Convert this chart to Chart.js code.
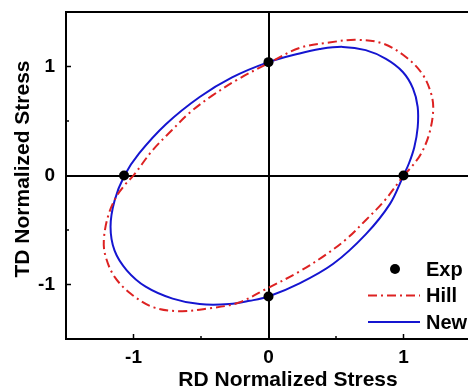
<!DOCTYPE html>
<html>
<head>
<meta charset="utf-8">
<script src="https://cdn.jsdelivr.net/npm/chart.js@4"></script>
<style>
  html, body { margin: 0; padding: 0; overflow: hidden; background: #fff; }
  #yield { display: block; }
</style>
</head>
<body>
<canvas id="yield" width="476" height="390"></canvas>
<script>
// Measured yield points
const expPoints = [[1.00, 0.00], [0.00, 1.04], [-1.07, 0.00], [0.00, -1.11]];

// Hill criterion locus
const hillCurve = [
  [1.00, 0.00], [1.06, 0.08], [1.13, 0.20], [1.19, 0.38], [1.22, 0.60], [1.205, 0.75],
  [1.14, 0.93], [1.02, 1.085], [0.85, 1.21], [0.65, 1.245], [0.45, 1.22], [0.23, 1.17],
  [0.00, 1.03], [-0.23, 0.88], [-0.42, 0.73], [-0.58, 0.58], [-0.72, 0.41], [-0.86, 0.23],
  [-1.00, 0.00], [-1.06, -0.08], [-1.13, -0.20], [-1.19, -0.38], [-1.22, -0.60], [-1.205, -0.75],
  [-1.14, -0.93], [-1.02, -1.085], [-0.85, -1.21], [-0.65, -1.245], [-0.45, -1.22], [-0.23, -1.17],
  [0.00, -1.03], [0.23, -0.88], [0.42, -0.73], [0.58, -0.58], [0.72, -0.41], [0.86, -0.23],
  [1.00, 0.00]
];

// New criterion locus
const newCurve = [
  [1.00, 0.00], [1.04, 0.11], [1.08, 0.26], [1.105, 0.44], [1.105, 0.63], [1.07, 0.80],
  [0.995, 0.95], [0.87, 1.07], [0.72, 1.15], [0.55, 1.18], [0.38, 1.16], [0.23, 1.12],
  [0.00, 1.04], [-0.27, 0.90], [-0.51, 0.72], [-0.76, 0.47], [-0.96, 0.20], [-1.067, 0.00],
  [-1.14, -0.23], [-1.17, -0.47], [-1.14, -0.69], [-1.05, -0.87], [-0.91, -1.02], [-0.71, -1.13],
  [-0.51, -1.18], [-0.29, -1.18], [-0.14, -1.15], [0.00, -1.11], [0.23, -0.99], [0.48, -0.81],
  [0.72, -0.54], [0.90, -0.26], [1.00, 0.00]
];

const seriesNames = ['Exp', 'Hill', 'New'];
const tickLabels = [-1, 0, 1];

const FONT = 'Arial, "Liberation Sans", sans-serif';
const toXY = pts => pts.map(([x, y]) => ({ x, y }));

// inside ticks, top frame, axis titles and the legend inside the plot
const decorations = {
  id: 'decorations',
  afterDraw(chart) {
    const ctx = chart.ctx;
    const area = chart.chartArea;
    const xs = chart.scales.x, ys = chart.scales.y;
    ctx.save();
    ctx.strokeStyle = '#000';
    ctx.lineWidth = 2;
    ctx.strokeRect(area.left, area.top, area.right - area.left, area.bottom - area.top);

    ctx.lineWidth = 1.5;
    [-1, -0.5, 0.5, 1].forEach(v => {
      const len = Number.isInteger(v) ? 5 : 3;
      const px = xs.getPixelForValue(v);
      ctx.beginPath();
      ctx.moveTo(px, area.bottom);
      ctx.lineTo(px, area.bottom - len);
      ctx.stroke();
      const py = ys.getPixelForValue(v);
      ctx.beginPath();
      ctx.moveTo(area.left, py);
      ctx.lineTo(area.left + len, py);
      ctx.stroke();
    });

    // axis titles
    ctx.fillStyle = '#000';
    ctx.font = 'bold 21px ' + FONT;
    ctx.textAlign = 'center';
    ctx.textBaseline = 'middle';
    ctx.fillText('RD Normalized Stress', 288, 380);
    ctx.save();
    ctx.translate(23, 169);
    ctx.rotate(-Math.PI / 2);
    ctx.fillText('TD Normalized Stress', 0, 0);
    ctx.restore();

    // legend
    ctx.font = 'bold 20px ' + FONT;
    ctx.textAlign = 'left';
    chart.data.datasets.forEach((ds, i) => {
      const y = 269 + i * 26.5;
      if (ds.showLine === false) {
        ctx.fillStyle = ds.backgroundColor;
        ctx.beginPath();
        ctx.arc(395, y, 5, 0, Math.PI * 2);
        ctx.fill();
      } else {
        ctx.strokeStyle = ds.borderColor;
        ctx.lineWidth = ds.borderWidth;
        ctx.setLineDash(ds.borderDash || []);
        ctx.beginPath();
        ctx.moveTo(368, y);
        ctx.lineTo(420, y);
        ctx.stroke();
        ctx.setLineDash([]);
      }
      ctx.fillStyle = '#000';
      ctx.fillText(ds.label, 426, y + 1);
    });
    ctx.restore();
  }
};

const axisCommon = {
  type: 'linear',
  min: -1.5,
  max: 1.5,
  ticks: {
    stepSize: 0.5,
    autoSkip: false,
    maxRotation: 0,
    color: '#000',
    font: { family: FONT, size: 19, weight: 'bold' },
    callback: v => tickLabels.includes(v) ? String(v) : ''
  },
  grid: {
    drawTicks: false,
    lineWidth: 2,
    color: c => (c.tick && c.tick.value === 0) ? '#000' : 'rgba(0,0,0,0)'
  },
  border: { display: true, color: '#000', width: 2 }
};

new Chart(document.getElementById('yield'), {
  type: 'scatter',
  data: {
    datasets: [
      {
        label: seriesNames[0],
        data: toXY(expPoints),
        showLine: false,
        pointRadius: 5,
        backgroundColor: '#000',
        borderColor: '#000',
        borderWidth: 0
      },
      {
        label: seriesNames[1],
        data: toXY(hillCurve),
        showLine: true,
        tension: 0.35,
        pointRadius: 0,
        borderColor: '#dd2222',
        borderWidth: 2,
        borderDash: [9, 4, 2, 4]
      },
      {
        label: seriesNames[2],
        data: toXY(newCurve),
        showLine: true,
        tension: 0.35,
        pointRadius: 0,
        borderColor: '#1515d0',
        borderWidth: 2
      }
    ]
  },
  options: {
    responsive: false,
    animation: false,
    layout: { padding: { left: 0, top: 12, right: 4.5, bottom: 0 } },
    plugins: {
      legend: { display: false },
      tooltip: { enabled: false }
    },
    scales: {
      x: {
        ...axisCommon,
        ticks: { ...axisCommon.ticks, padding: 7 },
        afterFit: s => { s.height = 51; s.paddingLeft = 0; s.paddingRight = 0; }
      },
      y: {
        ...axisCommon,
        ticks: { ...axisCommon.ticks, padding: 11 },
        afterFit: s => { s.width = 66; s.paddingTop = 0; s.paddingBottom = 0; }
      }
    }
  },
  plugins: [decorations]
});
</script>
</body>
</html>
